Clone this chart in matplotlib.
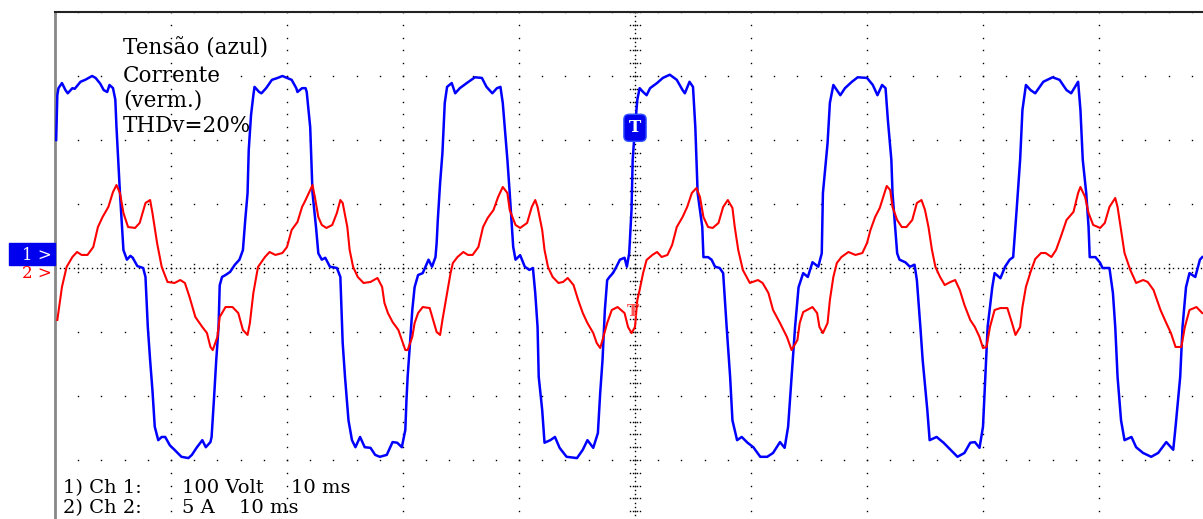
import matplotlib
matplotlib.use('Agg')
import matplotlib.pyplot as plt
from matplotlib.patches import Rectangle
import numpy as np

# Scope capture: 10 ms/div, Ch1 = tension 100 V/div, Ch2 = current 5 A/div
# values read off the screen, time measured from the left edge of the screen
blue_t = [0.1, 0.2, 0.3, 0.6, 0.9, 1.1, 1.5, 1.7, 2.2, 2.6,
          3.2, 3.5, 3.9, 4.2, 4.5, 4.7, 5.0, 5.2, 5.3, 5.6,
          5.8, 5.9, 6.2, 6.5, 6.7, 7.1, 7.6, 7.8, 8.0, 8.2,
          8.4, 8.6, 8.9, 9.2, 9.5, 9.9, 10.3, 10.9, 11.5, 11.8,
          12.2, 12.7, 13.0, 13.4, 13.5, 13.7, 13.9, 14.1, 14.2, 14.4,
          14.7, 15.1, 15.5, 15.9, 16.2, 16.4, 16.6, 16.7, 16.9, 17.1,
          17.2, 17.6, 17.8, 18.2, 18.7, 19.2, 19.6, 20.0, 20.4, 20.8,
          20.9, 21.3, 21.6, 21.7, 22.0, 22.2, 22.5, 22.7, 23.0, 23.3,
          23.7, 24.3, 24.6, 24.7, 24.8, 25.0, 25.3, 25.6, 25.9, 26.3,
          26.7, 27.2, 27.6, 28.0, 28.6, 29.1, 29.5, 29.9, 30.2, 30.3,
          30.4, 30.8, 31.0, 31.3, 31.7, 32.2, 32.5, 32.8, 32.9, 33.0,
          33.2, 33.4, 33.6, 33.8, 34.2, 34.5, 34.9, 35.5, 36.2, 36.8,
          37.2, 37.7, 38.1, 38.4, 38.6, 39.0, 39.2, 39.5, 39.7, 40.1,
          40.5, 40.9, 41.2, 41.4, 41.6, 41.7, 42.0, 42.2, 42.7, 43.1,
          43.5, 44.1, 45.0, 45.5, 45.9, 46.4, 46.8, 47.0, 47.2, 47.4,
          47.6, 47.8, 48.1, 48.4, 48.7, 49.1, 49.3, 49.5, 49.7, 49.8,
          50.0, 50.2, 50.4, 50.7, 51.0, 51.3, 51.9, 52.4, 53.0, 53.6,
          54.1, 54.3, 54.7, 55.0, 55.2, 55.4, 55.8, 55.9, 56.3, 56.6,
          56.9, 57.3, 57.6, 57.9, 58.2, 58.4, 58.8, 59.2, 59.7, 60.2,
          60.8, 61.4, 61.9, 62.5, 62.9, 63.2, 63.5, 63.8, 64.1, 64.5,
          64.9, 65.3, 65.8, 66.1, 66.2, 66.6, 66.8, 67.1, 67.4, 67.7,
          68.1, 68.7, 69.2, 70.0, 70.5, 70.9, 71.3, 71.6, 71.8, 72.1,
          72.2, 72.6, 72.8, 73.3, 73.7, 74.1, 74.3, 74.6, 74.8, 75.2,
          75.4, 76.0, 76.6, 77.2, 77.8, 78.4, 78.9, 79.3, 79.7, 80.0,
          80.2, 80.4, 80.8, 81.0, 81.5, 81.9, 82.3, 82.6, 82.9, 83.2,
          83.4, 83.7, 84.1, 84.5, 85.2, 86.0, 86.6, 87.2, 87.6, 88.2,
          88.4, 88.6, 88.9, 89.1, 89.2, 89.7, 90.1, 90.3, 90.9, 91.2,
          91.4, 91.6, 91.9, 92.2, 92.8, 93.2, 93.8, 94.5, 95.1, 95.8,
          96.4, 96.6, 97.0, 97.2, 97.5, 97.8, 98.3, 98.7, 98.9]
blue_v = [200, 270, 281, 289, 278, 273, 281, 280, 291, 294,
          300, 297, 288, 278, 275, 286, 281, 263, 220, 117,
          59, 28, 13, 19, 16, 3, 0, -14, -92, -144,
          -191, -248, -269, -264, -264, -277, -284, -295, -297, -292,
          -281, -269, -280, -272, -264, -206, -144, -92, -27, -14,
          -11, -6, 5, 13, 28, 75, 117, 184, 239, 270,
          283, 275, 273, 281, 294, 297, 300, 297, 294, 281,
          275, 281, 281, 275, 220, 117, 64, 23, 13, 16,
          2, 0, -14, -66, -117, -170, -238, -269, -280, -264,
          -280, -281, -292, -295, -292, -272, -273, -280, -253, -206,
          -170, -66, -30, -11, -8, 13, 2, 17, 39, 75,
          133, 180, 258, 283, 289, 273, 281, 289, 298, 297,
          283, 273, 281, 283, 258, 169, 117, 33, 13, 20,
          2, -3, 0, -39, -92, -170, -222, -273, -269, -264,
          -281, -295, -297, -284, -269, -281, -258, -195, -144, -66,
          -19, -14, -8, 2, 13, 16, 2, 23, 91, 169,
          220, 263, 281, 275, 270, 281, 289, 297, 302, 294,
          278, 273, 291, 283, 220, 117, 64, 17, 17, 13,
          2, 0, -8, -92, -170, -238, -269, -264, -273, -280,
          -295, -295, -289, -272, -281, -248, -170, -92, -30, -8,
          -14, 9, 2, 23, 117, 195, 258, 286, 278, 270,
          281, 291, 298, 297, 286, 270, 286, 281, 231, 169,
          117, 23, 13, 9, 2, 5, -19, -92, -144, -222,
          -269, -264, -273, -284, -295, -289, -273, -272, -281, -248,
          -170, -92, -30, -8, -16, 2, 13, 17, 91, 169,
          247, 286, 278, 273, 291, 298, 294, 278, 273, 291,
          247, 169, 117, 64, 17, 17, 8, 0, 0, -39,
          -92, -170, -238, -269, -264, -280, -289, -295, -289, -272,
          -284, -248, -170, -92, -30, -8, -14, 13, 17]

red_t = [0.2, 0.6, 1.0, 1.5, 1.9, 2.3, 2.8, 3.3, 3.7, 4.1,
         4.6, 5.0, 5.3, 5.6, 5.9, 6.3, 6.9, 7.3, 7.8, 8.2,
         8.4, 8.8, 9.2, 9.7, 10.3, 10.8, 11.2, 11.6, 12.1, 12.7,
         13.1, 13.4, 13.6, 14.0, 14.2, 14.7, 15.3, 15.8, 16.2, 16.6,
         16.8, 17.1, 17.5, 18.1, 18.5, 19.0, 19.6, 20.0, 20.4, 20.9,
         21.3, 21.6, 22.2, 22.4, 22.7, 23.0, 23.4, 23.9, 24.3, 24.6,
         24.8, 25.2, 25.4, 25.7, 26.1, 26.6, 27.2, 27.8, 28.2, 28.4,
         28.7, 29.1, 29.6, 29.9, 30.2, 30.4, 30.8, 31.0, 31.3, 31.7,
         32.3, 32.6, 32.9, 33.2, 33.4, 33.8, 34.1, 34.3, 34.7, 35.2,
         35.6, 36.0, 36.5, 36.9, 37.3, 37.8, 38.2, 38.6, 39.0, 39.2,
         39.7, 40.1, 40.7, 41.1, 41.4, 41.6, 42.0, 42.2, 42.5, 42.9,
         43.4, 43.8, 44.2, 44.7, 45.1, 45.5, 45.9, 46.4, 46.7, 47.0,
         47.2, 47.6, 48.0, 48.5, 49.1, 49.4, 49.7, 50.0, 50.2, 50.4,
         50.7, 51.0, 51.5, 51.9, 52.3, 52.8, 53.2, 53.6, 54.1, 54.5,
         54.9, 55.3, 55.6, 55.9, 56.3, 56.7, 57.2, 57.6, 58.0, 58.4,
         58.6, 58.9, 59.3, 59.9, 60.6, 61.0, 61.5, 61.9, 62.5, 63.1,
         63.5, 64.0, 64.2, 64.5, 65.3, 65.7, 65.9, 66.2, 66.6, 66.8,
         67.1, 67.4, 67.8, 68.4, 69.0, 69.6, 70.0, 70.3, 70.7, 71.1,
         71.4, 71.7, 72.0, 72.2, 72.6, 73.0, 73.4, 73.9, 74.3, 74.7,
         75.0, 75.3, 75.6, 75.9, 76.3, 76.7, 77.2, 77.6, 78.0, 78.4,
         78.9, 79.3, 79.7, 80.0, 80.3, 80.6, 81.0, 81.5, 82.1, 82.5,
         82.8, 83.2, 83.4, 83.7, 84.1, 84.5, 85.0, 85.4, 85.9, 86.3,
         86.7, 87.2, 87.8, 88.2, 88.4, 88.8, 89.1, 89.5, 90.1, 90.5,
         90.9, 91.4, 91.6, 91.9, 92.2, 92.7, 93.2, 93.8, 94.2, 94.7,
         95.3, 95.8, 96.2, 96.6, 97.1, 97.4, 97.8, 98.4, 98.9]
red_i = [-4.06, -1.48, 0.08, 0.86, 1.25, 1.02, 1.02, 1.64, 3.20, 3.98,
         4.77, 5.94, 6.48, 5.86, 4.30, 3.20, 3.13, 3.52, 5.08, 5.31,
         4.30, 1.95, 0.08, -1.09, -1.17, -0.94, -1.17, -2.27, -3.83, -4.61,
         -5.08, -6.17, -6.41, -5.39, -3.83, -3.05, -3.05, -3.52, -4.84, -5.23,
         -4.30, -1.95, 0.08, 0.86, 1.25, 1.02, 1.17, 1.64, 2.97, 3.59,
         4.77, 5.31, 6.48, 5.55, 3.98, 3.36, 3.13, 3.36, 4.30, 5.31,
         5.08, 3.20, 1.41, 0.08, -0.70, -1.17, -1.09, -0.78, -1.48, -2.73,
         -3.52, -4.22, -4.84, -5.63, -6.41, -6.41, -5.39, -4.30, -3.52, -3.05,
         -3.13, -4.06, -5.00, -5.23, -4.06, -1.95, -0.39, 0.39, 0.86, 1.25,
         1.02, 1.02, 1.64, 3.20, 3.91, 4.53, 5.55, 6.33, 5.86, 4.53,
         3.36, 3.13, 3.52, 4.77, 5.31, 4.77, 2.97, 1.41, 0.08, -0.70,
         -1.17, -1.09, -0.78, -1.33, -2.50, -3.52, -4.30, -5.08, -5.86, -6.25,
         -5.63, -4.30, -3.28, -3.05, -3.52, -4.61, -5.08, -4.61, -2.50, -1.72,
         -0.39, 0.63, 1.02, 1.25, 0.86, 1.02, 1.80, 3.20, 3.98, 4.77,
         5.86, 6.25, 5.55, 3.98, 3.20, 3.13, 3.52, 4.77, 5.31, 4.69,
         3.20, 1.41, -0.16, -1.17, -0.94, -1.17, -1.95, -3.28, -4.30, -5.39,
         -6.41, -5.63, -4.30, -3.44, -3.05, -3.52, -4.61, -5.08, -4.30, -2.50,
         -0.70, 0.39, 0.86, 1.25, 1.02, 1.17, 1.95, 2.97, 3.98, 4.69,
         5.55, 6.41, 6.09, 4.77, 3.75, 3.20, 3.20, 3.75, 5.08, 5.31,
         4.53, 3.20, 1.41, 0.08, -0.70, -1.33, -1.09, -0.94, -1.72, -2.89,
         -4.06, -4.61, -5.39, -6.25, -6.17, -4.61, -3.28, -3.13, -3.13, -4.30,
         -5.23, -4.61, -3.05, -1.48, -0.31, 0.70, 1.17, 1.17, 0.86, 1.41,
         2.42, 3.75, 4.38, 5.86, 6.33, 5.55, 4.30, 3.36, 3.13, 3.52,
         4.77, 5.47, 4.77, 2.97, 1.17, -0.16, -1.17, -0.94, -1.09, -1.72,
         -3.28, -4.30, -5.08, -6.17, -6.17, -4.61, -3.28, -3.05, -3.52]

W, H = 1203, 519
serif = 'DejaVu Serif'

fig = plt.figure(figsize=(W / 100, H / 100), dpi=100)
# screen is 10 x 8 divisions, the right and bottom edges fall outside the capture
ax = fig.add_axes([55 / W, 1 - 524 / H, 1160 / W, 512 / H])
ax.set_xlim(0, 100)
ax.set_ylim(-400, 400)
ax2 = ax.twinx()
ax2.set_ylim(-20, 20)

# dotted graticule
tt, vv = [], []
for v in range(-400, 401, 100):
    for t in np.arange(0, 100.01, 2):
        tt.append(t); vv.append(v)
for t in range(0, 101, 10):
    for v in np.arange(-400, 400.01, 20):
        tt.append(t); vv.append(v)
# centre cross with finer marks
for t in np.arange(0, 100.01, 0.4):
    tt.append(t); vv.append(0)
for t in np.arange(0, 100.01, 2):
    for v in (-6, 6):
        tt.append(t); vv.append(v)
for v in np.arange(-400, 400.01, 20 / 3):
    tt.append(50); vv.append(v)
for v in np.arange(-400, 400.01, 20):
    for t in (49.6, 49.8, 50.2, 50.4):
        tt.append(t); vv.append(v)
ax.plot(tt, vv, ls='none', marker='s', ms=1.0, mew=0, color='black', zorder=1)

ax.plot(blue_t, blue_v, color='#0000ff', lw=1.8, zorder=3)
ax2.plot(red_t, red_i, color='#ff0000', lw=1.5, zorder=3)

# trigger markers
ax.text(50.0, 219, 'T', ha='center', va='center', color='white', fontsize=12,
        fontweight='bold', family=serif, zorder=5,
        bbox=dict(boxstyle='round,pad=0.3', fc='#0000ee', ec='#3355ff', lw=1))
ax2.text(49.8, -3.4, 'T', ha='center', va='center', color='#ff5555', fontsize=12,
         fontweight='bold', family=serif, zorder=5)

for a in (ax, ax2):
    a.set_xticks([])
    a.set_yticks([])
for s in ('right', 'bottom'):
    ax.spines[s].set_visible(False)
for s in ax2.spines.values():
    s.set_visible(False)
ax.spines['top'].set_color('#222222')
ax.spines['top'].set_linewidth(1.5)
ax.spines['left'].set_color('#888888')
ax.spines['left'].set_linewidth(2)

# channel ground markers on the left
fig.patches.append(Rectangle((9 / W, 1 - 265 / H), 46 / W, 22 / H,
                             transform=fig.transFigure, color='#0000ee'))
fig.text(52 / W, 1 - 255 / H, '1 >', ha='right', va='center', color='white',
         fontsize=12, family=serif)
fig.text(52 / W, 1 - 273 / H, '2 >', ha='right', va='center', color='#ff0000',
         fontsize=12, family=serif)

# labels
fs = 15.5
for y, s in [(55, 'Tensão (azul)'), (82, 'Corrente'), (107, '(verm.)'), (132, 'THDv=20%')]:
    fig.text(123 / W, 1 - y / H, s, ha='left', va='baseline', fontsize=fs, family=serif)

for y, parts in [(493, [(63, '1) Ch 1:'), (182, '100 Volt'), (291, '10 ms')]),
                 (513, [(63, '2) Ch 2:'), (182, '5 A'), (239, '10 ms')])]:
    for x, s in parts:
        fig.text(x / W, 1 - y / H, s, ha='left', va='baseline', fontsize=14, family=serif)

fig.savefig('out.png', dpi=100)
